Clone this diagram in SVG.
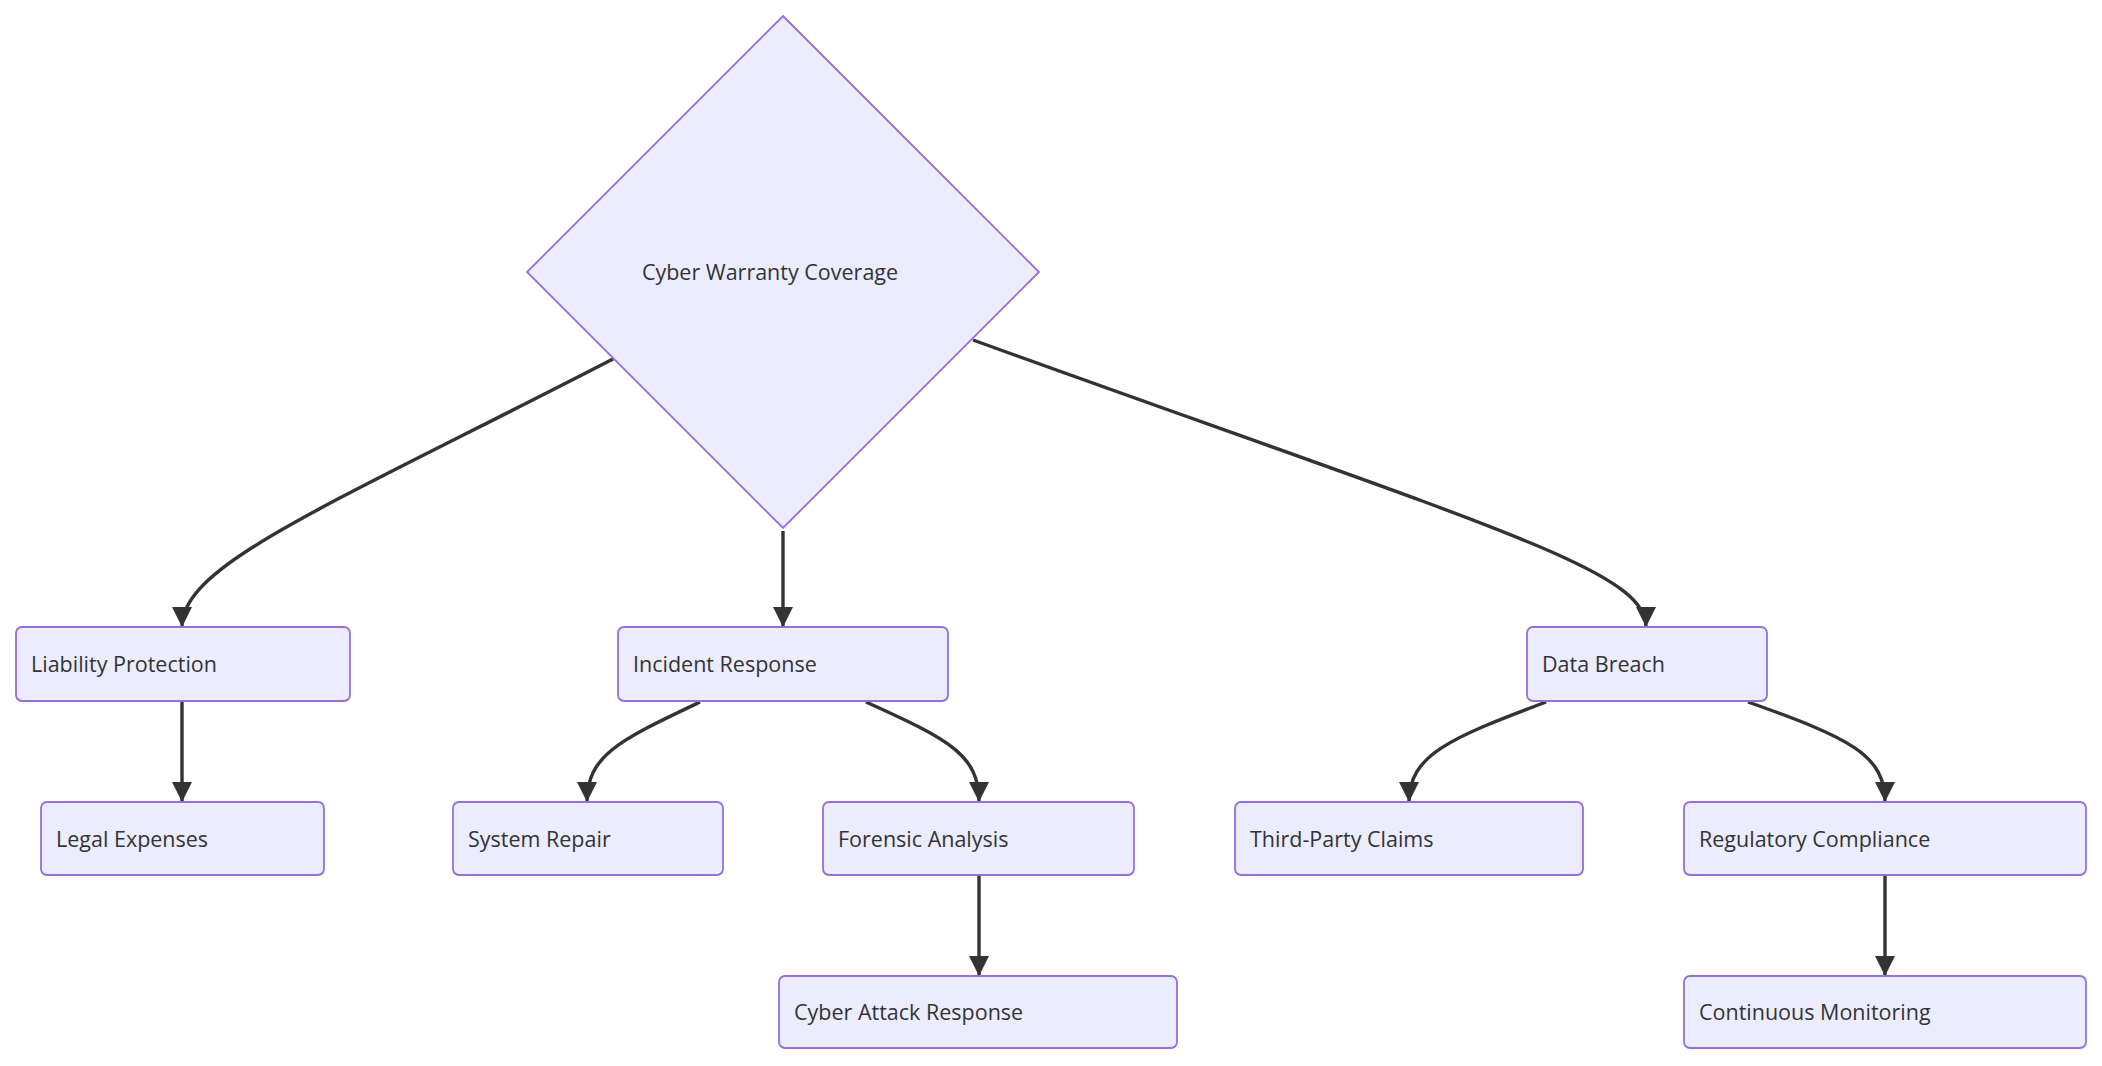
<svg xmlns="http://www.w3.org/2000/svg" width="2102" height="1066" viewBox="0 0 2102 1066">
<style>
.n{fill:#ECECFF;stroke:#9370DB;stroke-width:1.8}
.t{font-family:"Open Sans","Noto Sans",sans-serif;font-size:21.5px;fill:#333}
.e{fill:none;stroke:#333;stroke-width:3.4}
</style>
<defs><marker id="a" markerUnits="userSpaceOnUse" markerWidth="20" markerHeight="22" refX="20" refY="10" orient="auto" viewBox="0 0 20 20"><path d="M0,0 L20,10 L0,20 z" fill="#333"/></marker></defs>
<rect width="2102" height="1066" fill="#fff"/>
<g id="edges">
<path class="e" marker-end="url(#a)" d="M613,359 C320,510 182,565 182,627"/>
<path class="e" marker-end="url(#a)" d="M783,531 L783,627"/>
<path class="e" marker-end="url(#a)" d="M973,340 C1500,530 1646,570 1646,627"/>
<path class="e" marker-end="url(#a)" d="M182,701 L182,802"/>
<path class="e" marker-end="url(#a)" d="M700,702 C620,740 587,755 587,802"/>
<path class="e" marker-end="url(#a)" d="M866,702 C950,740 979,755 979,802"/>
<path class="e" marker-end="url(#a)" d="M979,875 L979,976"/>
<path class="e" marker-end="url(#a)" d="M1546,702 C1450,738 1409,755 1409,802"/>
<path class="e" marker-end="url(#a)" d="M1748,702 C1850,738 1885,755 1885,802"/>
<path class="e" marker-end="url(#a)" d="M1885,875 L1885,976"/>
</g>
<g id="root"><polygon class="n" points="783,16 1039,272 783,528 527,272"/><text class="t" x="770" y="280" text-anchor="middle">Cyber Warranty Coverage</text></g>
<g id="liability"><rect class="n" x="16" y="627" width="334" height="74" rx="6"/><text class="t" x="31" y="672">Liability Protection</text></g>
<g id="incident"><rect class="n" x="618" y="627" width="330" height="74" rx="6"/><text class="t" x="633" y="672">Incident Response</text></g>
<g id="breach"><rect class="n" x="1527" y="627" width="240" height="74" rx="6"/><text class="t" x="1542" y="672">Data Breach</text></g>
<g id="legal"><rect class="n" x="41" y="802" width="283" height="73" rx="6"/><text class="t" x="56" y="847">Legal Expenses</text></g>
<g id="repair"><rect class="n" x="453" y="802" width="270" height="73" rx="6"/><text class="t" x="468" y="847">System Repair</text></g>
<g id="forensic"><rect class="n" x="823" y="802" width="311" height="73" rx="6"/><text class="t" x="838" y="847">Forensic Analysis</text></g>
<g id="thirdparty"><rect class="n" x="1235" y="802" width="348" height="73" rx="6"/><text class="t" x="1250" y="847">Third-Party Claims</text></g>
<g id="regulatory"><rect class="n" x="1684" y="802" width="402" height="73" rx="6"/><text class="t" x="1699" y="847">Regulatory Compliance</text></g>
<g id="attack"><rect class="n" x="779" y="976" width="398" height="72" rx="6"/><text class="t" x="794" y="1020">Cyber Attack Response</text></g>
<g id="monitoring"><rect class="n" x="1684" y="976" width="402" height="72" rx="6"/><text class="t" x="1699" y="1020">Continuous Monitoring</text></g>
</svg>
